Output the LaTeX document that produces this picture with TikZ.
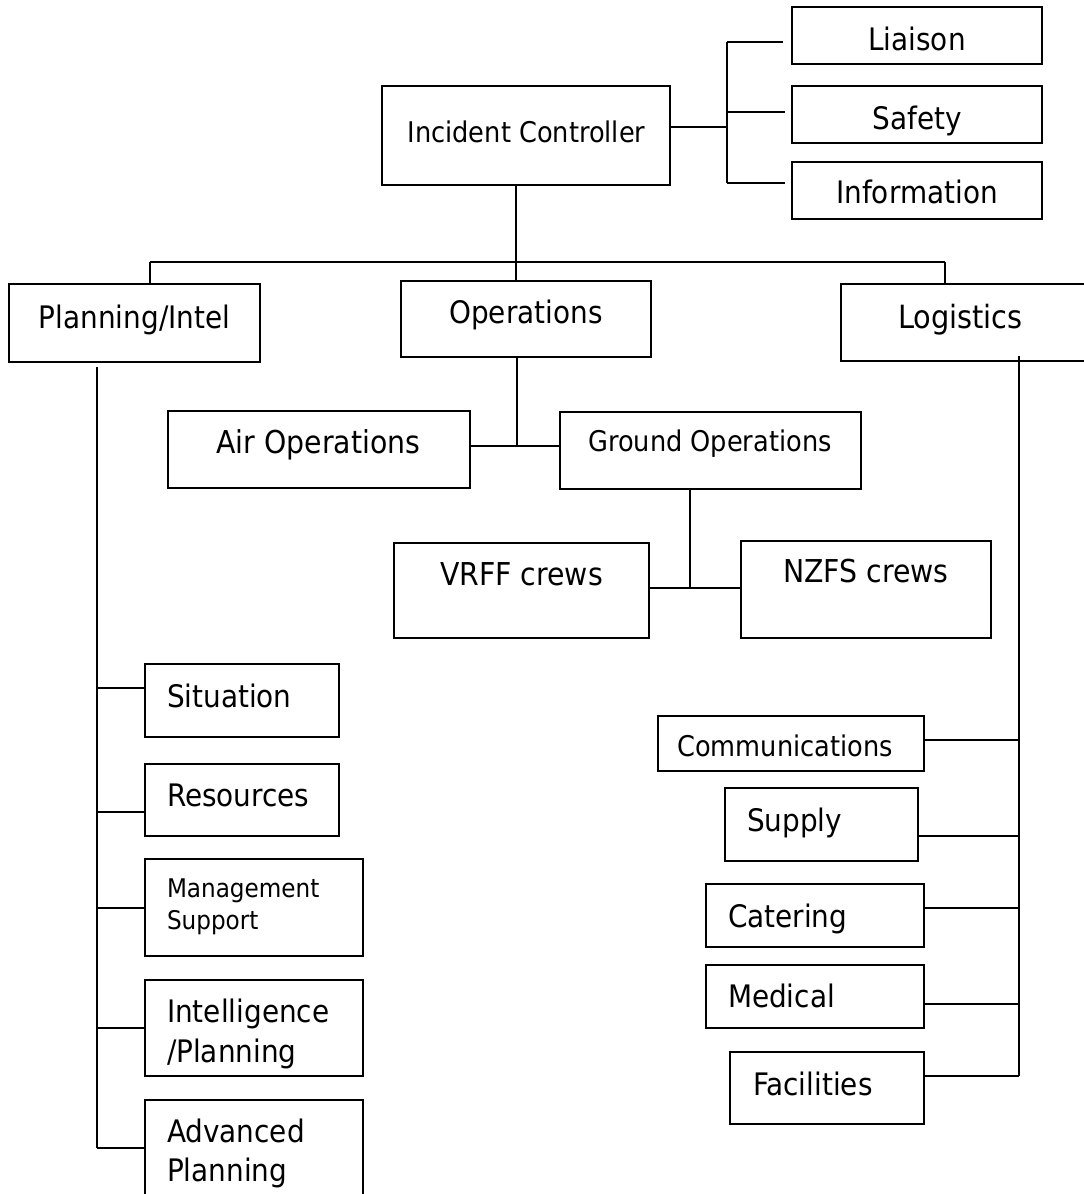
\documentclass[tikz,border=0pt]{standalone}
\usepackage{fontspec}
\setmainfont{DejaVu Sans}[FakeStretch=0.9]
\begin{document}
\begin{tikzpicture}[x=1pt,y=-1pt,line width=2pt,
  box/.style={draw,line width=2pt,inner sep=0pt,outer sep=0pt},
  txt/.style={inner sep=0pt,anchor=base},
  ltxt/.style={inner sep=0pt,anchor=base west},
  big/.style={font=\fontsize{31}{38}\selectfont},
  bigger/.style={font=\fontsize{32}{39}\selectfont},
  mid/.style={font=\fontsize{31.5}{38}\selectfont},
  small/.style={font=\fontsize{28.5}{35}\selectfont},
  tiny/.style={font=\fontsize{25.7}{31}\selectfont}]
\useasboundingbox (0,0) rectangle (1084,1194);
\clip (0,0) rectangle (1084,1194);
% boxes
\node[box,minimum width=288,minimum height=99] (ic) at (526,135.5) {};
\node[box,minimum width=250,minimum height=57] (liaison) at (917,35.5) {};
\node[box,minimum width=250,minimum height=57] (safety) at (917,114.5) {};
\node[box,minimum width=250,minimum height=57] (info) at (917,190.5) {};
\node[box,minimum width=251,minimum height=78] (pi) at (134.5,323) {};
\node[box,minimum width=250,minimum height=76] (ops) at (526,319) {};
\node[box,minimum width=253,minimum height=77] (log) at (967.5,322.5) {};
\node[box,minimum width=302,minimum height=77] (air) at (319,449.5) {};
\node[box,minimum width=301,minimum height=77] (ground) at (710.5,450.5) {};
\node[box,minimum width=255,minimum height=95] (vrff) at (521.5,590.5) {};
\node[box,minimum width=250,minimum height=97] (nzfs) at (866,589.5) {};
\node[box,minimum width=194,minimum height=73] (sit) at (242,700.5) {};
\node[box,minimum width=194,minimum height=72] (res) at (242,800) {};
\node[box,minimum width=218,minimum height=97] (mgmt) at (254,907.5) {};
\node[box,minimum width=218,minimum height=96] (intel) at (254,1028) {};
\node[box,minimum width=218,minimum height=110] (adv) at (254,1155) {};
\node[box,minimum width=266,minimum height=55] (comm) at (791,743.5) {};
\node[box,minimum width=193,minimum height=73] (supply) at (821.5,824.5) {};
\node[box,minimum width=218,minimum height=63] (cater) at (815,915.5) {};
\node[box,minimum width=218,minimum height=63] (med) at (815,996.5) {};
\node[box,minimum width=194,minimum height=72] (fac) at (827,1088) {};
% texts
\node[txt,small] (tic) at (526.5,142) {Incident Controller};
\node[txt,big] (tliaison) at (917,50) {Liaison};
\node[txt,big] (tsafety) at (917,129) {Safety};
\node[txt,big] (tinfo) at (917,203) {Information};
\node[txt,big] (tpi) at (134.5,328) {Planning/Intel};
\node[txt,big] (tops) at (526,323) {Operations};
\node[txt,bigger] (tlog) at (960.5,328) {Logistics};
\node[txt,mid] (tair) at (318.5,453) {Air Operations};
\node[txt,small] (tground) at (710,451) {Ground Operations};
\node[txt,mid] (tvrff) at (521.5,585) {VRFF crews};
\node[txt,mid] (tnzfs) at (866,582) {NZFS crews};
\node[ltxt,big] (tsit) at (166,707) {Situation};
\node[ltxt,big] (tres) at (166,806) {Resources};
\node[ltxt,tiny] (tmgmt1) at (166,897) {Management};
\node[ltxt,tiny] (tmgmt2) at (166,929) {Support};
\node[ltxt,big] (tintel1) at (166,1022) {Intelligence};
\node[ltxt,big] (tintel2) at (166,1062) {/Planning};
\node[ltxt,big] (tadv1) at (166,1142) {Advanced};
\node[ltxt,big] (tadv2) at (166,1181) {Planning};
\node[txt,small] (tcomm) at (785,756) {Communications};
\node[ltxt,big] (tsupply) at (746,831) {Supply};
\node[ltxt,big] (tcater) at (727,927) {Catering};
\node[ltxt,big] (tmed) at (727,1007) {Medical};
\node[ltxt,big] (tfac) at (752,1095) {Facilities};
% junction coordinates
\coordinate (icj) at (727,127);
\coordinate (stT) at (727,42);
\coordinate (stB) at (727,183);
\coordinate (lE) at (783,42);
\coordinate (sE) at (785,112);
\coordinate (iE) at (785,183);
\coordinate (topbus) at (516,262);
\coordinate (busL) at (150,262);
\coordinate (busR) at (945,262);
\coordinate (opsj) at (517,446);
\coordinate (grj) at (690,588);
\coordinate (piT) at (97,367);
\coordinate (piB) at (97,1148);
\coordinate (logT) at (1019,356);
\coordinate (logB) at (1019,1076);
% staff connectors
\draw (ic.east |- icj) -- (icj);
\draw (stT) -- (stB);
\draw (stT) -- (lE);
\draw (727,112) -- (sE);
\draw (stB) -- (iE);
% top bus
\draw (ic.south -| topbus) -- (topbus);
\draw (busL) -- (busR);
\draw (busL) -- (busL |- pi.north);
\draw (topbus) -- (topbus |- ops.north);
\draw (busR) -- (busR |- log.north);
% operations
\draw (ops.south -| opsj) -- (opsj);
\draw (air.east |- opsj) -- (ground.west |- opsj);
\draw (ground.south -| grj) -- (grj);
\draw (vrff.east |- grj) -- (nzfs.west |- grj);
% planning column
\draw (piT) -- (piB);
\draw (97,688) -- (sit.west |- 0,688);
\draw (97,812) -- (res.west |- 0,812);
\draw (97,908) -- (mgmt.west |- 0,908);
\draw (97,1028) -- (intel.west |- 0,1028);
\draw (piB) -- (adv.west |- piB);
% logistics column
\draw (logT) -- (logB);
\draw (comm.east |- 0,740) -- (1019,740);
\draw (supply.east |- 0,836) -- (1019,836);
\draw (cater.east |- 0,908) -- (1019,908);
\draw (med.east |- 0,1004) -- (1019,1004);
\draw (fac.east |- logB) -- (logB);
\end{tikzpicture}
\end{document}
